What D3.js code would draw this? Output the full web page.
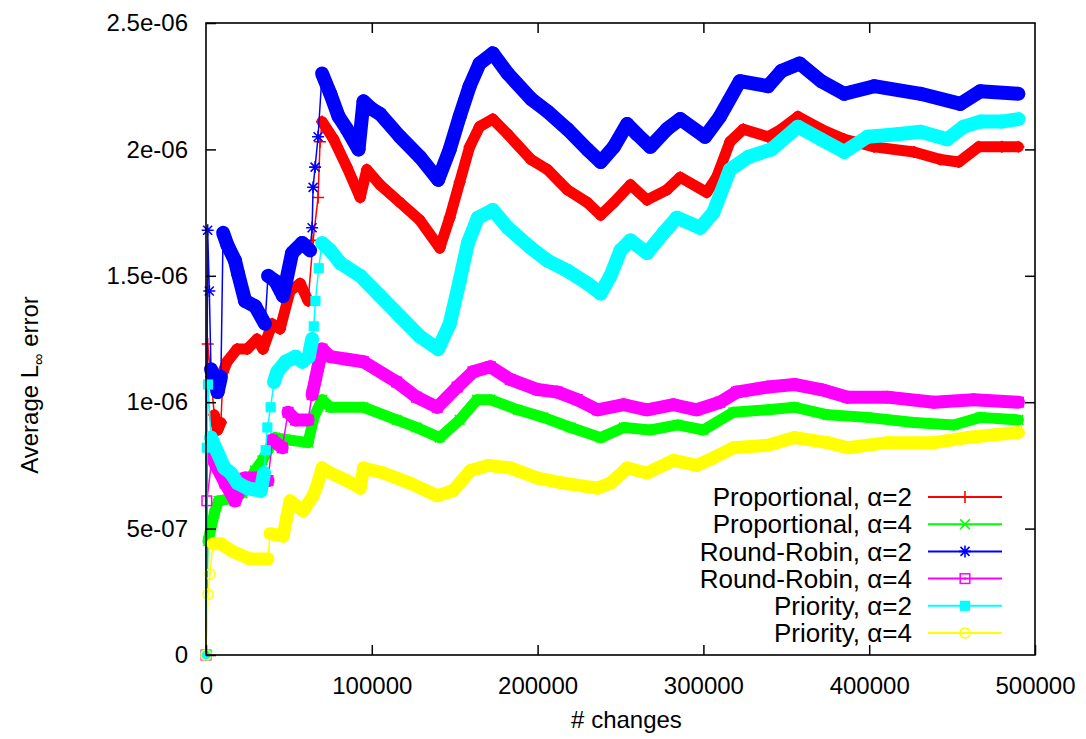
<!DOCTYPE html>
<html>
<head>
<meta charset="utf-8">
<script src="https://cdn.jsdelivr.net/npm/d3@7"></script>
<style>
  body { margin: 0; background: #fff; }
  text { font-family: "Liberation Sans", Arial, sans-serif; fill: #000; }
</style>
</head>
<body>
<div id="container"></div>
<script>
// values: [# changes, average L-inf error]
const propA2 = [[0,0],[1000,1.23e-6],[3000,1.10e-6],[5000,0.95e-6],[7000,0.89e-6],[9000,0.92e-6],[10300,1.12e-6],[12700,1.16e-6],[18700,1.21e-6],[24800,1.21e-6],[30800,1.25e-6],[34400,1.21e-6],[39900,1.31e-6],[44700,1.29e-6],[50700,1.44e-6],[56800,1.47e-6],[61600,1.40e-6],[64600,1.64e-6],[67600,1.81e-6],[68800,2.03e-6],[70000,2.11e-6],[77000,2.04e-6],[85000,1.93e-6],[93000,1.81e-6],[97000,1.92e-6],[105000,1.86e-6],[117000,1.79e-6],[129000,1.72e-6],[141000,1.61e-6],[147000,1.73e-6],[153000,1.87e-6],[159000,2.01e-6],[165000,2.09e-6],[173000,2.12e-6],[182000,2.06e-6],[196000,1.96e-6],[206000,1.92e-6],[218000,1.84e-6],[230000,1.79e-6],[238000,1.74e-6],[246000,1.79e-6],[256000,1.86e-6],[266000,1.80e-6],[278000,1.84e-6],[286000,1.89e-6],[302000,1.83e-6],[308000,1.89e-6],[316000,2.03e-6],[324000,2.08e-6],[339000,2.05e-6],[347000,2.08e-6],[357000,2.13e-6],[371000,2.08e-6],[385000,2.04e-6],[403000,2.01e-6],[427000,1.99e-6],[443000,1.96e-6],[454000,1.95e-6],[466000,2.01e-6],[480000,2.01e-6],[490000,2.01e-6]]

const propA4 = [[0,0],[1200,0.45e-6],[5000,0.56e-6],[7500,0.61e-6],[16000,0.62e-6],[22000,0.64e-6],[29600,0.73e-6],[34000,0.77e-6],[41700,0.86e-6],[50700,0.85e-6],[61600,0.84e-6],[65000,0.94e-6],[70000,1.01e-6],[75000,0.98e-6],[95000,0.98e-6],[115000,0.93e-6],[127000,0.90e-6],[141000,0.86e-6],[153000,0.93e-6],[163500,1.01e-6],[171500,1.01e-6],[188000,0.97e-6],[203500,0.94e-6],[220000,0.90e-6],[238000,0.86e-6],[252000,0.90e-6],[268000,0.89e-6],[284500,0.91e-6],[300000,0.89e-6],[318000,0.96e-6],[339000,0.97e-6],[355000,0.98e-6],[375000,0.95e-6],[399000,0.94e-6],[427000,0.92e-6],[451000,0.91e-6],[467000,0.94e-6],[490000,0.93e-6]]

const rrA2 = [[0,0],[1000,1.68e-6],[2000,1.44e-6],[3000,1.13e-6],[5000,1.10e-6],[7000,1.04e-6],[9000,1.10e-6],[10300,1.67e-6],[13000,1.62e-6],[17500,1.56e-6],[19300,1.51e-6],[23600,1.40e-6],[29600,1.38e-6],[35600,1.31e-6],[37400,1.50e-6],[41700,1.48e-6],[46500,1.42e-6],[51900,1.59e-6],[58000,1.63e-6],[62800,1.60e-6],[64000,1.69e-6],[64600,1.85e-6],[65800,1.93e-6],[67600,2.05e-6],[70000,2.30e-6],[75000,2.22e-6],[80000,2.13e-6],[85000,2.08e-6],[92000,2.00e-6],[95000,2.19e-6],[100000,2.16e-6],[105000,2.14e-6],[117000,2.05e-6],[129000,1.97e-6],[140000,1.88e-6],[147000,2.00e-6],[153000,2.13e-6],[159000,2.25e-6],[165000,2.34e-6],[173000,2.38e-6],[182000,2.30e-6],[196000,2.20e-6],[206000,2.15e-6],[218000,2.08e-6],[230000,2.00e-6],[238000,1.95e-6],[246000,2.01e-6],[254000,2.10e-6],[260000,2.06e-6],[268000,2.01e-6],[278000,2.08e-6],[286000,2.12e-6],[301000,2.05e-6],[310000,2.13e-6],[322000,2.27e-6],[339000,2.25e-6],[347000,2.31e-6],[358000,2.34e-6],[371000,2.27e-6],[385000,2.22e-6],[403000,2.25e-6],[431000,2.22e-6],[455000,2.18e-6],[467000,2.23e-6],[490000,2.22e-6]]

const rrA4 = [[0,0],[500,0.61e-6],[3600,0.78e-6],[11500,0.68e-6],[17500,0.61e-6],[23500,0.70e-6],[31500,0.70e-6],[37400,0.69e-6],[40000,0.85e-6],[46000,0.82e-6],[49500,0.96e-6],[54000,0.93e-6],[61600,0.93e-6],[64000,1.03e-6],[66000,1.09e-6],[67600,1.14e-6],[70000,1.21e-6],[75000,1.18e-6],[85000,1.17e-6],[95000,1.16e-6],[115000,1.08e-6],[127000,1.02e-6],[139500,0.98e-6],[151500,1.06e-6],[161000,1.12e-6],[171500,1.14e-6],[183500,1.09e-6],[200000,1.05e-6],[212000,1.04e-6],[224000,1.01e-6],[236000,0.97e-6],[252000,0.99e-6],[266000,0.97e-6],[282000,0.99e-6],[296000,0.97e-6],[310000,1.00e-6],[320000,1.04e-6],[339000,1.06e-6],[355000,1.07e-6],[371000,1.05e-6],[387000,1.02e-6],[411000,1.02e-6],[439000,1.00e-6],[463000,1.01e-6],[490000,1.00e-6]]

const prioA2 = [[0,0],[500,0.82e-6],[1200,1.07e-6],[3000,0.86e-6],[7000,0.80e-6],[11000,0.74e-6],[15000,0.72e-6],[19000,0.68e-6],[25000,0.66e-6],[33000,0.65e-6],[35000,0.72e-6],[36000,0.81e-6],[37000,0.90e-6],[39000,0.98e-6],[41000,1.08e-6],[43000,1.12e-6],[48000,1.16e-6],[54000,1.18e-6],[58000,1.16e-6],[62000,1.18e-6],[64000,1.25e-6],[65000,1.30e-6],[66000,1.40e-6],[68000,1.53e-6],[70000,1.63e-6],[75000,1.60e-6],[81000,1.55e-6],[93000,1.50e-6],[105000,1.42e-6],[117000,1.34e-6],[129000,1.26e-6],[140000,1.21e-6],[147000,1.31e-6],[153000,1.48e-6],[158000,1.63e-6],[164000,1.73e-6],[173000,1.76e-6],[182000,1.69e-6],[196000,1.61e-6],[206000,1.56e-6],[218000,1.52e-6],[230000,1.47e-6],[238000,1.43e-6],[244000,1.50e-6],[250000,1.60e-6],[256000,1.64e-6],[266000,1.59e-6],[276000,1.67e-6],[284000,1.73e-6],[298000,1.69e-6],[306000,1.75e-6],[316000,1.92e-6],[327000,1.97e-6],[341000,2.00e-6],[357000,2.09e-6],[371000,2.04e-6],[385000,1.99e-6],[399000,2.05e-6],[417000,2.06e-6],[431000,2.07e-6],[447000,2.04e-6],[457000,2.09e-6],[467000,2.11e-6],[480000,2.11e-6],[490000,2.12e-6]]

const prioA4 = [[0,0],[1200,0.24e-6],[2400,0.32e-6],[4200,0.44e-6],[9000,0.44e-6],[16000,0.41e-6],[26500,0.38e-6],[37400,0.38e-6],[38600,0.48e-6],[46500,0.47e-6],[48900,0.55e-6],[50700,0.61e-6],[58500,0.57e-6],[64600,0.63e-6],[67000,0.67e-6],[70000,0.74e-6],[75000,0.72e-6],[85000,0.69e-6],[93000,0.66e-6],[95000,0.74e-6],[107000,0.72e-6],[123000,0.68e-6],[139500,0.63e-6],[149000,0.65e-6],[159500,0.73e-6],[170000,0.75e-6],[183500,0.74e-6],[200000,0.70e-6],[215500,0.68e-6],[236000,0.66e-6],[244000,0.68e-6],[254000,0.74e-6],[266000,0.72e-6],[282000,0.77e-6],[296000,0.75e-6],[306000,0.78e-6],[318000,0.82e-6],[339000,0.83e-6],[355000,0.86e-6],[375000,0.84e-6],[387000,0.82e-6],[411000,0.84e-6],[439000,0.84e-6],[459000,0.86e-6],[490000,0.88e-6]]

const seriesNames = ['Proportional, α=2', 'Proportional, α=4', 'Round-Robin, α=2', 'Round-Robin, α=4', 'Priority, α=2', 'Priority, α=4']
const xTicks = [0, 100000, 200000, 300000, 400000, 500000]
const yTicks = [0, 5e-7, 1e-6, 1.5e-6, 2e-6, 2.5e-6]
const yTickLabels = ['0', '5e-07', '1e-06', '1.5e-06', '2e-06', '2.5e-06']

const w = 1086
const h = 739
const plotL = 206, plotR = 1035, plotT = 23, plotB = 655
const tickLen = 10

const series = [
    { name: seriesNames[0], data: propA2, color: '#ff0000', marker: 'plus', band: 11 },
    { name: seriesNames[1], data: propA4, color: '#00ff00', marker: 'cross', band: 11 },
    { name: seriesNames[2], data: rrA2, color: '#0000ff', marker: 'star', band: 14 },
    { name: seriesNames[3], data: rrA4, color: '#ff00ff', marker: 'box', band: 13 },
    { name: seriesNames[4], data: prioA2, color: '#00ffff', marker: 'fbox', band: 14 },
    { name: seriesNames[5], data: prioA4, color: '#ffff00', marker: 'circle', band: 13 }
]

const scaleX = d3.scaleLinear([0, 500000], [plotL, plotR])
const scaleY = d3.scaleLinear([0, 2.5e-6], [plotB, plotT])

const svg = d3.select('#container')
    .append('svg')
    .attr('width', w)
    .attr('height', h)

svg.append('rect').attr('width', w).attr('height', h).attr('fill', '#fff')

// draws a gnuplot style point symbol at (0,0)
function drawMarker(g, type, color, s) {
    if (type === 'plus') {
        g.append('path').attr('d', `M${-s},0H${s}M0,${-s}V${s}`).attr('stroke', color).attr('stroke-width', 1.6)
    } else if (type === 'cross') {
        const k = s * 0.8
        g.append('path').attr('d', `M${-k},${-k}L${k},${k}M${-k},${k}L${k},${-k}`).attr('stroke', color).attr('stroke-width', 1.6)
    } else if (type === 'star') {
        const k = s * 0.75
        g.append('path').attr('d', `M${-s},0H${s}M0,${-s}V${s}M${-k},${-k}L${k},${k}M${-k},${k}L${k},${-k}`).attr('stroke', color).attr('stroke-width', 1.6)
    } else if (type === 'box') {
        const k = s * 0.8
        g.append('rect').attr('x', -k).attr('y', -k).attr('width', 2 * k).attr('height', 2 * k)
            .attr('fill', 'none').attr('stroke', color).attr('stroke-width', 1.5)
        g.append('rect').attr('x', -1).attr('y', -1).attr('width', 2).attr('height', 2).attr('fill', color)
    } else if (type === 'fbox') {
        const k = s * 0.85
        g.append('rect').attr('x', -k).attr('y', -k).attr('width', 2 * k).attr('height', 2 * k).attr('fill', color)
    } else if (type === 'circle') {
        g.append('circle').attr('r', s * 0.85).attr('fill', 'none').attr('stroke', color).attr('stroke-width', 1.5)
        g.append('circle').attr('r', 1).attr('fill', color)
    }
}

const line = d3.line()
    .x(d => scaleX(d[0]))
    .y(d => scaleY(d[1]))

// where the samples lie close together the points merge into a solid band;
// steep jumps show single points joined by a thin line
const isDense = ([a, b]) => {
    if (a[0] === 0) return false
    const dx = Math.abs(scaleX(b[0]) - scaleX(a[0]))
    const dy = Math.abs(scaleY(b[1]) - scaleY(a[1]))
    const k = a[0] >= 70000 ? 12 : 4.5
    return dy <= k * dx + 4
}

series.forEach(s => {
    const g = svg.append('g')

    g.selectAll('line.band')
        .data(d3.pairs(s.data).filter(isDense))
        .enter()
        .append('line')
        .attr('class', 'band')
        .attr('x1', d => scaleX(d[0][0])).attr('y1', d => scaleY(d[0][1]))
        .attr('x2', d => scaleX(d[1][0])).attr('y2', d => scaleY(d[1][1]))
        .attr('stroke', s.color)
        .attr('stroke-width', s.band)
        .attr('stroke-linecap', 'round')

    g.append('path')
        .datum(s.data)
        .attr('d', line)
        .attr('fill', 'none')
        .attr('stroke', s.color)
        .attr('stroke-width', 1.5)

    g.selectAll('g.pt')
        .data(s.data)
        .enter()
        .append('g')
        .attr('class', 'pt')
        .attr('transform', d => `translate(${scaleX(d[0])},${scaleY(d[1])})`)
        .each(function () { drawMarker(d3.select(this), s.marker, s.color, 6) })
})

// frame with inward ticks on all sides
const axisX = d3.axisBottom(scaleX).tickValues(xTicks).tickSize(-tickLen).tickPadding(22).tickFormat(d => d)
const axisXTop = d3.axisTop(scaleX).tickValues(xTicks.slice(1, -1)).tickSize(-tickLen).tickFormat('')
const axisY = d3.axisLeft(scaleY).tickValues(yTicks).tickSize(-tickLen).tickPadding(18).tickFormat((d, i) => yTickLabels[i])
const axisYRight = d3.axisRight(scaleY).tickValues(yTicks.slice(1, -1)).tickSize(-tickLen).tickFormat('')

const styleAxis = g => {
    g.select('.domain').remove()
    g.selectAll('line').attr('stroke', '#000').attr('stroke-width', 1.5)
    g.selectAll('text').attr('font-size', 24).attr('font-family', '"Liberation Sans", Arial, sans-serif').attr('fill', '#000')
}

svg.append('g').attr('transform', `translate(0,${plotB})`).call(axisX).call(styleAxis)
svg.append('g').attr('transform', `translate(0,${plotT})`).call(axisXTop).call(styleAxis)
svg.append('g').attr('transform', `translate(${plotL},0)`).call(axisY).call(styleAxis)
svg.append('g').attr('transform', `translate(${plotR},0)`).call(axisYRight).call(styleAxis)

svg.append('rect')
    .attr('x', plotL).attr('y', plotT)
    .attr('width', plotR - plotL).attr('height', plotB - plotT)
    .attr('fill', 'none').attr('stroke', '#000').attr('stroke-width', 1.6)

// axis titles
svg.append('text')
    .attr('x', (plotL + plotR) / 2 + 6)
    .attr('y', 728)
    .attr('text-anchor', 'middle')
    .attr('font-size', 24)
    .text('# changes')

const yTitle = svg.append('text')
    .attr('transform', 'translate(38,385) rotate(-90)')
    .attr('text-anchor', 'middle')
    .attr('font-size', 24)
yTitle.append('tspan').text('Average L')
yTitle.append('tspan').attr('font-size', 16).attr('dy', 6).text('∞')
yTitle.append('tspan').attr('dy', -6).text(' error')

// key, bottom right
const legend = svg.append('g').attr('id', 'legend')
const rowY = d3.scaleLinear([0, 5], [497, 633])
series.forEach((s, i) => {
    const y = rowY(i)
    legend.append('text')
        .attr('x', 912).attr('y', y)
        .attr('dy', '0.35em')
        .attr('text-anchor', 'end')
        .attr('font-size', 26)
        .text(s.name)
    legend.append('line')
        .attr('x1', 928).attr('x2', 1002)
        .attr('y1', y).attr('y2', y)
        .attr('stroke', s.color).attr('stroke-width', 2)
    const m = legend.append('g').attr('transform', `translate(965,${y})`)
    drawMarker(m, s.marker, s.color, 6)
})
</script>
</body>
</html>
